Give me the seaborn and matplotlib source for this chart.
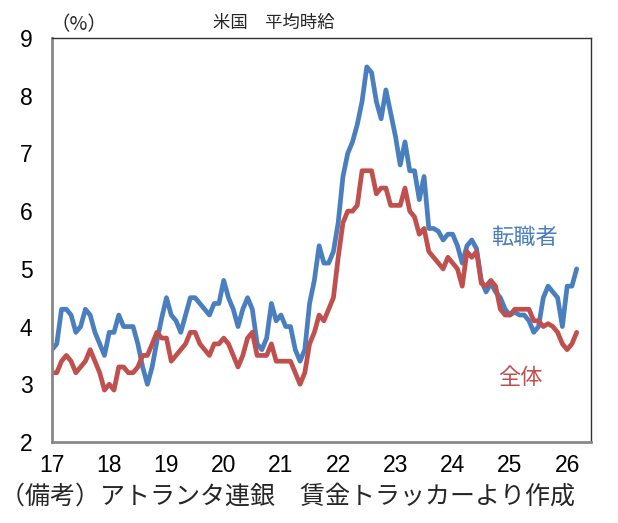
import numpy as np
import pandas as pd
import matplotlib
matplotlib.use("Agg")
import matplotlib.pyplot as plt
import seaborn as sns

# ---- data (monthly, Jan 2017 onward) ----
switchers = [3.6, 3.7, 4.3, 4.3, 4.2, 3.9, 4.0, 4.3, 4.2, 3.9, 3.7, 3.5,
             3.9, 3.9, 4.2, 4.0, 4.0, 4.0, 3.7, 3.3, 3.0, 3.3, 3.75, 4.15,
             4.5, 4.2, 4.1, 3.9, 4.2, 4.5, 4.5, 4.4, 4.3, 4.2, 4.4, 4.4,
             4.8, 4.5, 4.3, 4.0, 4.3, 4.5, 4.3, 3.7, 3.6, 3.8, 4.4, 4.1,
             4.2, 4.0, 4.0, 3.6, 3.4, 3.6, 4.4, 4.8, 5.4, 5.1, 5.1, 5.3,
             5.8, 6.6, 7.0, 7.2, 7.5, 7.9, 8.5, 8.4, 7.9, 7.6, 8.1, 7.7,
             7.3, 6.8, 7.2, 6.7, 6.7, 6.2, 6.6, 5.7, 5.7, 5.65, 5.5, 5.6,
             5.6, 5.4, 5.1, 5.4, 5.5, 5.35, 4.8, 4.6, 4.75, 4.6, 4.5, 4.3,
             4.2, 4.25, 4.2, 4.2, 4.1, 3.9, 4.0, 4.5, 4.7, 4.6, 4.5, 4.0,
             4.7, 4.7, 5.0]
overall = [3.2, 3.2, 3.4, 3.5, 3.4, 3.2, 3.3, 3.4, 3.6, 3.4, 3.2, 2.9,
           3.0, 2.9, 3.3, 3.3, 3.2, 3.2, 3.3, 3.5, 3.5, 3.7, 3.9, 3.8,
           3.8, 3.4, 3.5, 3.6, 3.7, 3.9, 3.9, 3.7, 3.6, 3.5, 3.7, 3.7,
           3.8, 3.7, 3.5, 3.3, 3.5, 3.8, 3.9, 3.5, 3.5, 3.5, 3.7, 3.4,
           3.4, 3.4, 3.4, 3.2, 3.0, 3.2, 3.7, 3.9, 4.2, 4.1, 4.3, 4.5,
           5.2, 5.8, 6.0, 6.0, 6.1, 6.7, 6.7, 6.7, 6.3, 6.4, 6.4, 6.1,
           6.1, 6.1, 6.4, 6.0, 5.9, 5.6, 5.7, 5.3, 5.2, 5.1, 5.0, 5.2,
           5.1, 5.0, 4.7, 5.3, 5.2, 5.3, 4.75, 4.7, 4.8, 4.7, 4.3, 4.2,
           4.2, 4.3, 4.3, 4.3, 4.3, 4.1, 4.1, 4.0, 4.05, 4.0, 3.9, 3.7,
           3.6, 3.7, 3.9]
year_ticks = [17, 18, 19, 20, 21, 22, 23, 24, 25, 26]
y_ticks = [2, 3, 4, 5, 6, 7, 8, 9]
label_switch = "転職者"
label_all = "全体"
title = "米国　平均時給"
unit = "（%）"
note = "（備考）アトランタ連銀　賃金トラッカーより作成"

n = len(switchers)
xs = [17 + i / 12 for i in range(n)]
df = pd.DataFrame({
    "x": xs * 2,
    "value": switchers + overall,
    "series": [label_switch] * n + [label_all] * n,
})

BLUE = "#4a7fbf"
RED = "#c0504d"

sns.set_theme(style="white")
plt.rcParams["font.family"] = ["Noto Sans CJK JP", "DejaVu Sans"]
numfont = ["Liberation Sans Narrow", "Liberation Sans", "DejaVu Sans"]

fig = plt.figure(figsize=(6.18, 5.23), dpi=100)
W, H = 618, 523
L, R, T, B = 52, 591, 38, 442
ax = fig.add_axes([L / W, 1 - B / H, (R - L) / W, (B - T) / H])

sns.lineplot(data=df, x="x", y="value", hue="series",
             palette={label_switch: BLUE, label_all: RED},
             linewidth=3.4, legend=False, ax=ax)

ax.set_xlim(17, 17 + 113 / 12)
ax.set_ylim(2, 9)
ax.set_xlabel("")
ax.set_ylabel("")
ax.set_xticks(year_ticks)
ax.set_xticklabels([str(t) for t in year_ticks], fontfamily=numfont, fontsize=16.5)
ax.set_yticks(y_ticks)
ax.set_yticklabels([str(t) for t in y_ticks], fontfamily=numfont, fontsize=16.5)
ax.tick_params(axis="x", length=0, pad=9, colors="black")
ax.tick_params(axis="y", length=5, width=1.5, color="#888888", pad=9, labelcolor="black")
ax.grid(False)

for s in ["left", "bottom"]:
    ax.spines[s].set_color("#888888")
    ax.spines[s].set_linewidth(2)
for s in ["top", "right"]:
    ax.spines[s].set_color("#333333")
    ax.spines[s].set_linewidth(1)

fig.text(274 / W, 1 - 23 / H, title, ha="center", va="center", fontsize=12.5)
fig.text(50 / W, 1 - 25 / H, unit, ha="left", va="center", fontsize=14)
fig.text(524 / W, 1 - 237 / H, label_switch, ha="center", va="center",
         fontsize=16, color=BLUE)
fig.text(520 / W, 1 - 378 / H, label_all, ha="center", va="center",
         fontsize=16, color=RED)
fig.text(0 / W, 1 - 497 / H, note, ha="left", va="center", fontsize=18)

fig.savefig("out.png", dpi=100)
